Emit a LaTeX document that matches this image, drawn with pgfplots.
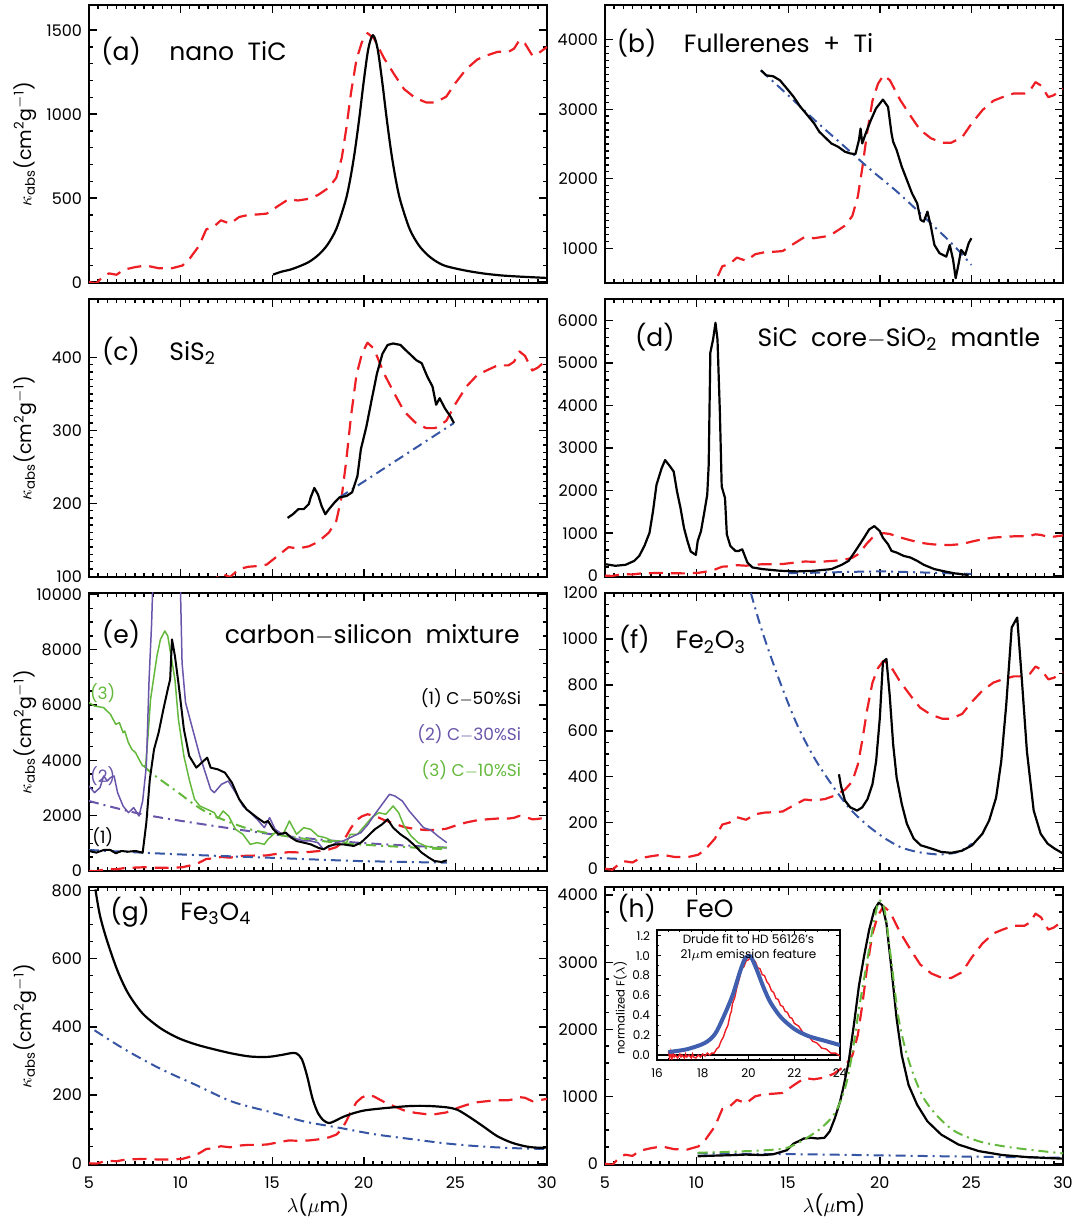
\documentclass[border=0pt]{standalone}
\usepackage{fontspec}
\setmainfont{Poppins}
\usepackage{pgfplots}
\usepackage{pgfplotstable}
\pgfplotsset{compat=1.18}

\definecolor{rd}{RGB}{237,30,36}
\definecolor{bl}{RGB}{55,85,165}
\definecolor{gr}{RGB}{100,185,60}
\definecolor{pu}{RGB}{105,85,170}
\definecolor{ibl}{RGB}{65,95,175}

% observed 21 micron profile, scaled for each panel (columns a..h)
\pgfplotstableread{
x     a     b     c    d     e     f    g    h
5.0   0     0     0    0     0     0    0    0
5.4   -7    -17   -2   -5    -10   -5   -1   -19
5.8   37    87    10   25    51    23   5    96
6.1   52    122   15   35    72    32   7    134
6.5   44    105   13   30    62    27   6    115
6.9   74    174   21   50    103   45   10   192
7.5   89    209   25   60    123   54   12   230
8.1   99    234   28   67    137   61   13   257
8.8   83    195   24   56    115   51   11   214
9.5   82    192   23   55    113   50   11   211
10.1  99    234   28   67    137   61   13   257
10.5  141   331   40   95    195   86   19   364
11.0  215   506   61   145   297   131  29   555
11.4  314   739   89   212   435   192  42   812
11.8  329   774   93   222   455   201  44   850
12.2  368   865   104  248   508   224  50   950
12.7  348   820   99   235   482   213  47   900
13.2  388   914   110  262   537   237  52   1003
13.7  400   942   113  270   554   244  54   1034
14.2  403   949   114  272   558   246  54   1042
14.7  408   959   116  275   564   249  55   1053
15.3  452   1064  128  305   625   276  61   1168
15.9  494   1162  140  333   683   301  67   1275
16.4  486   1144  138  328   672   297  66   1256
17.0  496   1168  141  335   687   303  67   1283
17.5  519   1221  147  350   718   317  70   1341
18.1  563   1325  160  380   779   344  76   1455
18.5  622   1465  176  420   861   380  84   1609
18.8  741   1744  210  500   1025  453  100  1915
19.05 919   2163  260  620   1271  561  124  2375
19.3  1126  2651  319  760   1558  688  152  2911
19.6  1326  3122  376  895   1835  810  179  3428
19.9  1430  3366  405  965   1978  873  193  3696
20.2  1482  3488  420  1000  2050  905  200  3830
20.55 1452  3418  412  980   2009  887  196  3753
21.1  1334  3139  378  900   1845  815  180  3447
21.7  1230  2895  349  830   1702  751  166  3179
22.2  1149  2703  326  775   1589  701  155  2968
22.8  1097  2581  311  740   1517  670  148  2834
23.4  1070  2518  303  722   1480  653  144  2765
23.9  1070  2518  303  722   1480  653  144  2765
24.5  1104  2599  313  745   1527  674  149  2853
25.0  1186  2790  336  800   1640  724  160  3064
25.6  1269  2986  360  856   1755  775  171  3278
26.2  1326  3122  376  895   1835  810  179  3428
26.7  1349  3174  382  910   1866  824  182  3485
27.3  1371  3226  389  925   1896  837  185  3543
27.9  1371  3226  389  925   1896  837  185  3543
28.2  1390  3272  394  938   1923  849  188  3593
28.5  1441  3390  408  972   1993  880  194  3723
28.8  1420  3341  402  958   1964  867  192  3669
29.2  1349  3174  382  910   1866  824  182  3485
29.5  1360  3202  386  918   1882  831  184  3516
30.0  1400  3296  397  945   1937  855  189  3619
}\redtab

\tikzset{
  redd/.style={rd, line width=1.1pt, dash pattern=on 7pt off 4pt, line join=round},
  dd/.style={line width=1pt, dash pattern=on 5pt off 2.5pt on 1pt off 2.5pt},
  sol/.style={black, line width=1.1pt, line join=round},
  thinl/.style={line width=0.75pt, line join=round},
  ttl/.style={font=\fontsize{12.5}{14}\selectfont},
  lab/.style={font=\fontsize{8.5}{10}\selectfont},
}

\pgfplotsset{
  panel/.style={
    scale only axis, width=229pt, height=139pt, anchor=south west,
    xmin=5, xmax=30, xtick={5,10,15,20,25,30}, minor x tick num=9,
    tick align=inside, xtick pos=both, ytick pos=both,
    major tick length=4pt, minor tick length=2pt,
    axis line style={line width=0.8pt},
    tick style={black, line width=0.7pt},
    tick label style={font=\fontsize{8}{9}\selectfont},
    /pgf/number format/assume math mode=true,
    /pgf/number format/1000 sep={},
    scaled y ticks=false,
    xticklabel=\empty,
    clip mode=individual,
  },
  leftpanel/.style={panel,
    ylabel={$\kappa$\textsubscript{abs}(cm\textsuperscript{2}g\textsuperscript{$-$1})},
    every axis y label/.style={at={(axis description cs:-0.1397,0.5)}, rotate=90, anchor=center, font=\fontsize{9.5}{11}\selectfont},
  },
  bottompanel/.style={
    xticklabel={\pgfmathprintnumber{\tick}},
    xticklabel style={anchor=center, yshift=-9pt},
    xlabel={$\lambda$($\mu$m)},
    every axis x label/.style={at={(axis description cs:0.5,-0.144)}, anchor=center, font=\fontsize{10}{12}\selectfont},
  },
}

\begin{document}
\begin{tikzpicture}
\useasboundingbox (0,0) rectangle (538pt,612.5pt);

% (a)
\begin{axis}[leftpanel, at={(44.5pt,471pt)}, ymin=-5, ymax=1650,
  ytick={0,500,1000,1500}, minor y tick num=4]
\addplot[redd] table[x=x,y=a]{\redtab};
\addplot[sol, smooth] coordinates {(15.05,45) (15.5,62) (16.0,75) (16.5,95) (17.0,120) (17.5,160) (18.0,220) (18.5,317) (19.0,483) (19.25,608) (19.5,771) (19.75,973) (20.0,1198) (20.25,1391) (20.5,1470) (20.75,1391) (21.0,1198) (21.25,973) (21.5,771) (21.75,608) (22.0,483) (22.5,317) (23.0,220) (23.5,160) (24.0,120) (24.5,95) (25.5,70) (26.5,52) (27.5,40) (28.5,33) (30.0,25)};
\node[ttl, anchor=base] at (rel axis cs:0.07,0.80) {(a)};
\node[ttl, anchor=base west] at (rel axis cs:0.16,0.80) {nano\ \ TiC};
\end{axis}

% (b)
\begin{axis}[panel, at={(302.5pt,471pt)}, ymin=500, ymax=4500,
  ytick={1000,2000,3000,4000}, minor y tick num=9]
\addplot[redd] table[x=x,y=b]{\redtab};
\addplot[bl, dd, smooth] coordinates {(13.5,3560) (15,3200) (16.5,2830) (18,2480) (19.5,2130) (21,1800) (22.5,1430) (24,1050) (25,760)};
\addplot[sol] coordinates {(13.52,3560) (13.8,3488) (14.18,3474) (14.55,3416) (14.93,3297) (15.3,3177) (15.67,3033) (16.05,2914) (16.42,2794) (16.7,2675) (16.98,2603) (17.36,2507) (17.73,2459) (18.1,2388) (18.39,2364) (18.67,2354) (18.86,2555) (18.95,2722) (19.04,2507) (19.23,2651) (19.51,2842) (19.79,3010) (20.17,3139) (20.45,3033) (20.64,2651) (20.73,2531) (20.92,2411) (21.2,2172) (21.48,1981) (21.76,1789) (22.04,1646) (22.23,1407) (22.4,1383) (22.6,1526) (22.79,1311) (22.98,1048) (23.26,928) (23.63,880) (23.82,1048) (24.0,833) (24.14,569) (24.29,761) (24.44,976) (24.66,904) (24.85,1072) (25.0,1144)};
\node[ttl, anchor=base] at (rel axis cs:0.069,0.83) {(b)};
\node[ttl, anchor=base west] at (rel axis cs:0.157,0.83) {Fullerenes\ \ +\ \ Ti};
\end{axis}

% (c)
\begin{axis}[leftpanel, at={(44.5pt,324pt)}, ymin=99, ymax=480,
  ytick={100,200,300,400}, minor y tick num=9]
\addplot[redd] table[x=x,y=c]{\redtab};
\addplot[bl, dd] coordinates {(18.67,208) (24.92,310)};
\addplot[sol] coordinates {(15.84,180) (16.13,185) (16.43,192) (16.72,192) (17.0,199) (17.1,208) (17.3,221) (17.5,212) (17.7,196) (17.9,185) (18.1,192) (18.4,201) (18.67,208) (19.06,210) (19.36,215) (19.65,237) (19.84,274) (20.14,305) (20.43,342) (20.72,378) (21.02,405) (21.3,417) (21.6,419) (22.0,417) (22.28,410) (22.58,403) (22.87,396) (23.16,392) (23.46,374) (23.75,360) (23.95,335) (24.14,344) (24.43,330) (24.73,319) (24.92,310)};
\node[ttl, anchor=base] at (rel axis cs:0.07,0.78) {(c)};
\node[ttl, anchor=base west] at (rel axis cs:0.16,0.78) {SiS\textsubscript{2}};
\end{axis}

% (d)
\begin{axis}[panel, at={(302.5pt,324pt)}, ymin=-30, ymax=6500,
  ytick={0,1000,2000,3000,4000,5000,6000}, minor y tick num=4]
\addplot[redd] table[x=x,y=d]{\redtab};
\addplot[bl, dd, smooth] coordinates {(15.0,60) (17,75) (19,95) (20.2,100) (22,80) (24,55) (25,40)};
\addplot[sol] coordinates {(5.0,272) (5.56,233) (6.12,256) (6.6,349) (6.87,466) (7.15,699) (7.43,1009) (7.62,1514) (7.81,2135) (8.09,2523) (8.28,2717) (8.56,2562) (8.75,2446) (8.93,1980) (9.12,1592) (9.31,1126) (9.5,815) (9.68,567) (9.96,489) (10.06,815) (10.24,1048) (10.43,1514) (10.58,1902) (10.66,2601) (10.75,5241) (10.9,5551) (11.03,5940) (11.14,5551) (11.27,3843) (11.37,2096) (11.55,1825) (11.65,971) (11.84,699) (12.12,582) (12.3,582) (12.49,621) (12.77,311) (13.05,194) (13.6,155) (14.55,116) (15.49,101) (16.42,116) (17.36,155) (17.92,256) (18.3,349) (18.67,582) (19.14,893) (19.42,1087) (19.7,1165) (20.0,1048) (20.17,893) (20.45,738) (20.64,582) (20.92,543) (21.3,466) (21.67,427) (22.04,349) (22.4,256) (22.98,155) (23.54,101) (24.1,54) (24.85,16)};
\node[ttl, anchor=base] at (rel axis cs:0.109,0.83) {(d)};
\node[ttl, anchor=base west] at (rel axis cs:0.318,0.83) {SiC\ \ core$-$SiO\textsubscript{2}\ \ mantle};
\end{axis}

% (e)
\begin{axis}[leftpanel, at={(44.5pt,177pt)}, ymin=0, ymax=10050,
  ytick={0,2000,4000,6000,8000,10000}, minor y tick num=3]
\addplot[redd] table[x=x,y=e]{\redtab};
\addplot[bl, dd, smooth] coordinates {(5,759) (9.88,602) (14.77,482) (19.65,362) (24.53,301)};
\addplot[pu, dd, smooth] coordinates {(5,2531) (7.93,2049) (11.84,1627) (15.74,1265) (19.65,1024) (24.53,844)};
\addplot[gr, dd, smooth] coordinates {(8.0,3800) (8.5,3494) (9.88,2832) (10.86,2350) (11.84,1988) (13.8,1506) (15.74,1265) (17.7,1085) (19.65,964) (24.53,783)};
\addplot[gr, thinl] coordinates {(5,6085) (5.3,5965) (5.8,5905) (6.17,5664) (6.46,5302) (6.66,5362) (6.86,5000) (6.95,5060) (7.15,4639) (7.34,4398) (7.54,4278) (7.73,4037) (7.93,3796) (8.09,3796) (8.22,4880) (8.36,6206) (8.52,6929) (8.71,7772) (8.9,8375) (9.14,8676) (9.3,8495) (9.45,7893) (9.69,6929) (9.88,5483) (10.18,4157) (10.47,3314) (10.76,2591) (11.05,2350) (11.45,2229) (11.84,2109) (12.03,1892) (12.32,2169) (12.62,1988) (13.0,1506) (13.4,1326) (13.8,964) (14.18,1024) (14.57,964) (14.77,1145) (15.16,1386) (15.55,1265) (15.94,1808) (16.33,1326) (16.72,1566) (17.1,1506) (17.5,1265) (17.9,1205) (18.28,1085) (18.67,1085) (19.06,1024) (19.26,1326) (19.65,1326) (20.04,1627) (20.43,1928) (20.82,2109) (21.2,2049) (21.6,2350) (21.9,2109) (22.2,1627) (22.58,1265) (22.97,1024) (23.36,904) (23.85,844) (24.53,844)};
\addplot[pu, thinl] coordinates {(5,3073) (5.3,2832) (5.6,3012) (5.8,3434) (6,3254) (6.17,3374) (6.37,3434) (6.56,2832) (6.86,2350) (7.15,2109) (7.44,2290) (7.73,1988) (7.93,2531) (8.13,3796) (8.28,6929) (8.42,8977) (8.6,13000) (9.9,13000) (10.08,7531) (10.27,6085) (10.66,5121) (11.05,4157) (11.35,3555) (11.64,2952) (11.84,2832) (12.23,3133) (12.6,3254) (13.0,2832) (13.4,2350) (13.8,2109) (14.18,1868) (14.57,1566) (14.86,1928) (15.16,1506) (15.55,1326) (15.74,1386) (16.04,1205) (16.43,1145) (16.72,1085) (17.1,1085) (17.5,1024) (17.8,783) (18.2,904) (18.48,1024) (18.87,1085) (19.45,1265) (19.84,1386) (20.23,1687) (20.6,2049) (21.0,2410) (21.4,2772) (21.7,2711) (22.1,2531) (22.48,2169) (22.87,1868) (23.26,1566) (23.65,1482) (24.04,1265) (24.53,1024)};
\addplot[sol, line width=1pt] coordinates {(5,723) (5.4,663) (5.8,759) (6.17,759) (6.46,639) (6.76,723) (7.15,699) (7.54,723) (7.93,663) (8.13,1747) (8.32,3314) (8.55,4398) (8.8,5000) (9.06,5844) (9.3,6567) (9.43,6929) (9.53,8375) (9.69,7772) (9.88,6808) (10.18,5121) (10.47,4157) (10.86,3735) (11.15,3916) (11.45,4097) (11.64,3735) (12.03,3675) (12.42,3555) (12.8,3193) (13.2,2591) (13.6,2229) (14.18,1928) (14.57,1747) (14.77,1808) (15.06,1506) (15.35,1326) (15.74,1386) (16.04,1205) (16.33,1085) (16.72,1024) (17.1,964) (17.5,844) (17.8,783) (18.09,904) (18.48,964) (18.87,964) (19.45,904) (19.84,1024) (20.23,1265) (20.6,1506) (21.0,1687) (21.3,1868) (21.6,1566) (22.0,1326) (22.4,1145) (22.8,904) (23.16,663) (23.55,482) (23.85,362) (24.24,325) (24.53,386)};
\node[ttl, anchor=base] at (rel axis cs:0.07,0.82) {(e)};
\node[ttl, anchor=base west] at (rel axis cs:0.281,0.82) {carbon$-$silicon\ \ mixture};
\node[lab, anchor=base east] at (rel axis cs:0.959,0.60) {(1)\ C$-$50\%Si};
\node[lab, anchor=base east, text=pu] at (rel axis cs:0.959,0.47) {(2)\ C$-$30\%Si};
\node[lab, anchor=base east, text=gr] at (rel axis cs:0.959,0.34) {(3)\ C$-$10\%Si};
\node[lab] at (rel axis cs:0.03,0.12) {(1)};
\node[lab, text=pu] at (rel axis cs:0.03,0.341) {(2)};
\node[lab, text=gr] at (rel axis cs:0.03,0.64) {(3)};
\end{axis}

% (f)
\begin{axis}[panel, at={(302.5pt,177pt)}, ymin=-10, ymax=1200,
  ytick={0,200,400,600,800,1000,1200}, minor y tick num=3]
\addplot[redd] table[x=x,y=f]{\redtab};
\addplot[bl, dd, smooth] coordinates {(12.96,1200) (13.6,1028) (14.55,813) (15.49,626) (16.42,483) (17.36,368) (18.3,267) (19.23,195) (20.17,138) (21.1,95) (22.04,73) (22.98,63) (23.5,63) (24.3,73) (25.04,109)};
\addplot[sol] coordinates {(17.77,411) (17.88,360) (18.1,296) (18.39,267) (18.76,253) (19.04,267) (19.33,303) (19.6,368) (19.8,468) (20.0,655) (20.17,899) (20.36,913) (20.54,755) (20.73,540) (20.92,396) (21.2,281) (21.48,195) (21.85,131) (22.23,102) (22.8,88) (23.35,73) (23.9,69) (24.48,78) (25.04,102) (25.6,152) (25.97,210) (26.35,310) (26.63,468) (26.9,712) (27.2,1050) (27.5,1093) (27.75,827) (28.03,511) (28.4,253) (28.78,152) (29.16,109) (29.53,88) (30,66)};
\node[ttl, anchor=base] at (rel axis cs:0.064,0.80) {(f)};
\node[ttl, anchor=base west] at (rel axis cs:0.139,0.80) {Fe\textsubscript{2}O\textsubscript{3}};
\end{axis}

% (g)
\begin{axis}[leftpanel, bottompanel, at={(44.5pt,30pt)}, ymin=-5, ymax=810,
  ytick={0,200,400,600,800}, minor y tick num=3]
\addplot[redd] table[x=x,y=g]{\redtab};
\addplot[bl, dd, smooth] coordinates {(5.3,390) (6.95,334) (8.9,277) (10.86,229) (12.8,181) (14.77,152) (16.72,123) (18.67,104) (20.6,85) (22.58,71) (24.53,58) (26.5,49) (28.4,44) (30,42)};
\addplot[sol, smooth] coordinates {(5.35,803) (5.6,726) (6.0,650) (6.56,564) (7.15,497) (7.93,439) (8.9,396) (9.88,367) (10.86,348) (11.84,334) (12.8,322) (13.8,313) (14.77,312) (15.55,318) (16.04,323) (16.33,322) (16.62,305) (16.9,257) (17.2,190) (17.5,147) (17.8,126) (18.09,118) (18.38,123) (18.87,136) (19.45,147) (20.04,155) (20.82,160) (21.6,164) (22.58,168) (23.55,168) (24.53,164) (25.1,157) (25.7,138) (26.5,109) (27.27,80) (28.05,61) (28.8,50) (29.4,46) (30,46)};
\node[ttl, anchor=base] at (rel axis cs:0.09,0.88) {(g)};
\node[ttl, anchor=base west] at (rel axis cs:0.184,0.88) {Fe\textsubscript{3}O\textsubscript{4}};
\end{axis}

% (h)
\begin{axis}[panel, bottompanel, at={(302.5pt,30pt)}, ymin=-20, ymax=4120,
  ytick={0,1000,2000,3000,4000}, minor y tick num=3]
\addplot[redd] table[x=x,y=h]{\redtab};
\addplot[bl, dd] coordinates {(10.06,152) (16.42,138) (20.17,123) (23.9,108) (30,89)};
\addplot[sol] coordinates {(10.06,110) (10.8,118) (11.74,125) (12.68,135) (13.6,128) (14.18,140) (14.93,200) (15.3,300) (15.58,335) (15.86,375) (16.24,385) (16.6,375) (16.98,385) (17.27,482) (17.55,679) (17.83,925) (18.0,1121) (18.3,1515) (18.58,2056) (18.86,2646) (19.14,3089) (19.42,3483) (19.7,3778) (19.94,3886) (20.13,3851) (20.36,3581) (20.64,2892) (20.92,2154) (21.2,1613) (21.57,1171) (22.04,876) (22.6,630) (23.35,433) (24.29,285) (25.4,187) (26.7,128) (28.03,98) (30,74)};
\addplot[gr, dd, smooth] coordinates {(10.06,162) (11.74,177) (13.6,197) (14.93,236) (15.86,359) (16.8,531) (17.55,753) (18.1,1121) (18.48,1613) (18.86,2302) (19.23,2892) (19.6,3483) (19.94,3901) (20.26,3778) (20.64,2991) (21.0,2204) (21.39,1712) (21.85,1318) (22.4,974) (23.16,703) (24.1,482) (25.4,334) (26.7,261) (28.03,212) (30,152)};
\node[ttl, anchor=base] at (rel axis cs:0.069,0.89) {(h)};
\node[ttl, anchor=base west] at (rel axis cs:0.161,0.89) {FeO};
\end{axis}

% inset
\begin{axis}[at={(328.5pt,82.5pt)}, anchor=south west, scale only axis,
  width=91.5pt, height=65pt, xmin=16, xmax=24, ymin=-0.05, ymax=1.26,
  xtick={16,18,20,22,24}, ytick={0,0.2,0.4,0.6,0.8,1.0,1.2},
  minor x tick num=3, minor y tick num=1,
  tick align=inside, xtick pos=both, ytick pos=both,
  major tick length=2.2pt, minor tick length=1.1pt,
  axis line style={line width=0.6pt}, tick style={black, line width=0.5pt},
  axis background/.style={fill=white},
  tick label style={font=\fontsize{6}{7}\selectfont},
  /pgf/number format/assume math mode=true,
  yticklabel style={/pgf/number format/.cd, fixed, fixed zerofill, precision=1},
  xticklabel style={yshift=-1pt},
  ylabel={normalized F($\lambda$)},
  every axis y label/.style={at={(axis description cs:-0.20,0.4)}, rotate=90, anchor=center, font=\fontsize{5.8}{7}\selectfont},
  clip mode=individual]
\addplot[black, line width=0.9pt] coordinates {(16,0) (24,0)};
\addplot[rd, line width=0.7pt] coordinates {(16.50,0.04) (16.55,-0.03) (16.60,0.03) (16.65,-0.04) (16.70,0.02) (16.75,-0.02) (16.80,0.00) (16.90,-0.03) (17.00,0.01) (17.05,-0.02) (17.10,0.00) (17.20,-0.03) (17.25,0.01) (17.30,-0.02) (17.40,0.00) (17.50,-0.03) (17.55,0.01) (17.60,-0.02) (17.70,-0.03) (17.80,0.00) (17.90,-0.02) (18.00,0.01) (18.10,-0.01) (18.20,0.02) (18.30,0.00) (18.40,0.02) (18.50,0.02) (18.60,0.06) (18.70,0.08) (18.80,0.14) (18.90,0.18) (19.00,0.25) (19.10,0.30) (19.20,0.41) (19.25,0.44) (19.30,0.52) (19.40,0.58) (19.50,0.69) (19.60,0.77) (19.70,0.87) (19.80,0.89) (19.90,0.95) (20.00,0.96) (20.10,0.99) (20.20,0.96) (20.30,0.94) (20.40,0.88) (20.50,0.87) (20.60,0.81) (20.70,0.80) (20.80,0.74) (20.90,0.71) (21.00,0.65) (21.10,0.63) (21.20,0.57) (21.30,0.56) (21.40,0.50) (21.50,0.49) (21.60,0.44) (21.70,0.43) (21.80,0.38) (21.90,0.37) (22.00,0.32) (22.20,0.29) (22.40,0.22) (22.60,0.20) (22.80,0.14) (23.00,0.12) (23.20,0.07) (23.40,0.06) (23.60,0.02) (23.80,0.02) (24.00,-0.01)};
\addplot[ibl, line width=2pt, smooth] coordinates {(16.5,0.03) (17.3,0.058) (18.08,0.12) (18.53,0.21) (18.9,0.38) (19.3,0.6) (19.6,0.82) (19.82,0.96) (20.0,1.0) (20.13,0.98) (20.36,0.86) (20.66,0.68) (20.96,0.53) (21.42,0.38) (22.02,0.26) (22.63,0.19) (23.39,0.14) (24,0.10)};
\node[font=\fontsize{6}{7.4}\selectfont, align=center, inner sep=0pt] at (rel axis cs:0.5,0.865) {Drude fit to HD 56126's\\21$\mu$m emission feature};
\end{axis}

\end{tikzpicture}
\end{document}
